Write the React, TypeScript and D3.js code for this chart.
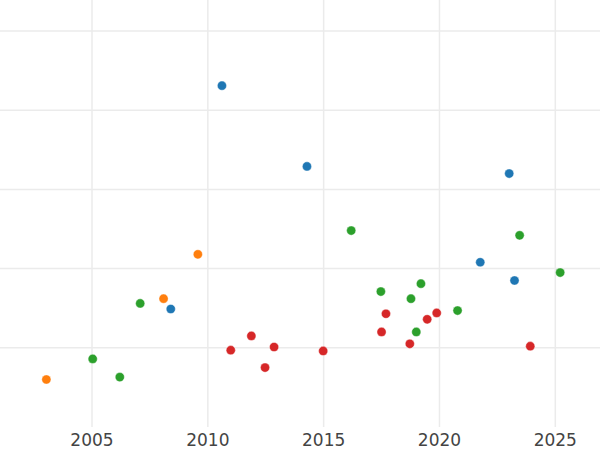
import React from "react";
import * as d3 from "d3";

const xTicks = [2005, 2010, 2015, 2020, 2025];
const yTicks = [1, 2, 3, 4, 5];

const blueX = [2010.61, 2014.28, 2023.01, 2021.76, 2023.24, 2008.4];
const blueY = [4.31, 3.29, 3.2, 2.08, 1.85, 1.49];

const orangeX = [2003.03, 2008.09, 2009.57];
const orangeY = [0.6, 1.62, 2.18];

const greenX = [2005.03, 2006.2, 2007.08, 2016.19, 2017.47, 2019.2, 2018.77, 2019.0, 2020.78, 2023.46, 2025.21];
const greenY = [0.86, 0.63, 1.56, 2.48, 1.71, 1.81, 1.62, 1.2, 1.47, 2.42, 1.95];

const redX = [2010.99, 2011.88, 2012.47, 2012.86, 2014.98, 2017.5, 2017.69, 2018.72, 2019.47, 2019.88, 2023.92];
const redY = [0.97, 1.15, 0.75, 1.01, 0.96, 1.2, 1.43, 1.05, 1.36, 1.44, 1.02];

const series = [
  { xs: blueX, ys: blueY, color: "#1f77b4" },
  { xs: orangeX, ys: orangeY, color: "#ff7f0e" },
  { xs: greenX, ys: greenY, color: "#2ca02c" },
  { xs: redX, ys: redY, color: "#d62728" },
];

export default function App() {
  const W = 600;
  const H = 450;
  const plotBottom = 427;
  const x = d3.scaleLinear().domain([2005, 2025]).range([92, 555.3]);
  const y = d3.scaleLinear().domain([0, 5]).range([plotBottom, 31]);

  return (
    <svg
      width={W}
      height={H}
      style={{ position: "absolute", left: 0, top: 0, background: "#fff" }}
      fontFamily="DejaVu Sans"
    >
      <rect x={0} y={0} width={W} height={H} fill="#fff" />
      {yTicks.map((t) => (
        <line key={"h" + t} x1={0} x2={W} y1={y(t)} y2={y(t)} stroke="#ebebeb" strokeWidth={1.5} />
      ))}
      {xTicks.map((t) => (
        <line key={"v" + t} x1={x(t)} x2={x(t)} y1={0} y2={plotBottom} stroke="#ebebeb" strokeWidth={1.5} />
      ))}
      {xTicks.map((t) => (
        <text key={"t" + t} x={x(t)} y={446} textAnchor="middle" fontSize={17} fill="#444">
          {t}
        </text>
      ))}
      {series.map((s, si) =>
        s.xs.map((xv, i) => (
          <circle
            key={si + "-" + i}
            cx={x(xv)}
            cy={y(s.ys[i])}
            r={4.6}
            fill={s.color}
            stroke="#fff"
            strokeWidth={0.4}
          />
        ))
      )}
    </svg>
  );
}
